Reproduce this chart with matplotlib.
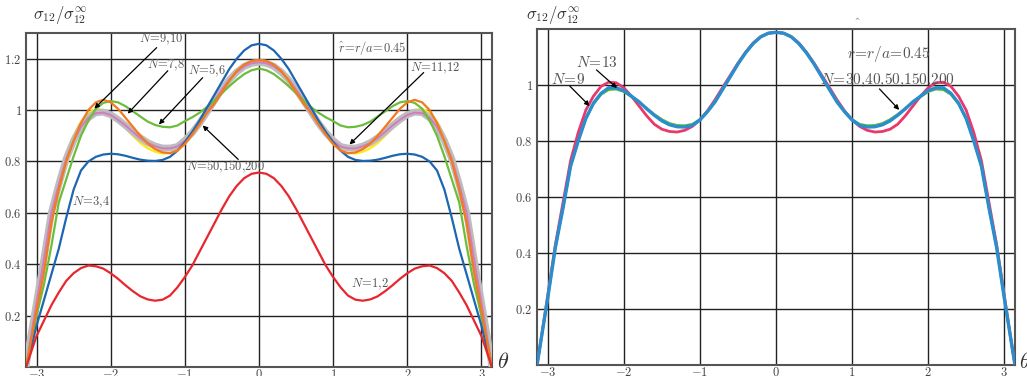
import numpy as np
import matplotlib
matplotlib.use('Agg')
import matplotlib.pyplot as plt

plt.rcParams['mathtext.fontset'] = 'cm'
plt.rcParams['font.family'] = ['DejaVu Serif']

# theta from -pi to 0; the curves are symmetric in theta, mirrored below
theta_half = [-np.pi, -3.1, -3.0, -2.9, -2.8, -2.7, -2.6, -2.5, -2.4, -2.3, -2.2, -2.1,
              -2.0, -1.9, -1.8, -1.7, -1.6, -1.5, -1.4, -1.3, -1.2, -1.1, -1.0,
              -0.9, -0.8, -0.7, -0.6, -0.5, -0.4, -0.3, -0.2, -0.1, 0.0]

# left panel, N = 1..200
n12 = [0, 0.035, 0.12, 0.18, 0.24, 0.29, 0.335, 0.365, 0.385, 0.395, 0.392, 0.383,
       0.365, 0.343, 0.318, 0.295, 0.275, 0.263, 0.258, 0.262, 0.278, 0.31, 0.35,
       0.395, 0.45, 0.505, 0.56, 0.615, 0.665, 0.705, 0.735, 0.752, 0.757]
n34 = [0, 0.04, 0.16, 0.26, 0.36, 0.46, 0.58, 0.69, 0.765, 0.80, 0.818, 0.827,
       0.83, 0.828, 0.822, 0.814, 0.807, 0.803, 0.802, 0.806, 0.818, 0.842, 0.875,
       0.915, 0.96, 1.01, 1.06, 1.11, 1.16, 1.20, 1.232, 1.252, 1.258]
n56 = [0, 0.06, 0.20, 0.32, 0.47, 0.64, 0.73, 0.82, 0.90, 0.96, 1.005, 1.028,
       1.035, 1.03, 1.015, 0.995, 0.975, 0.955, 0.942, 0.935, 0.933, 0.94, 0.957,
       0.972, 0.99, 1.012, 1.038, 1.066, 1.093, 1.118, 1.14, 1.155, 1.162]
n78 = [0, 0.06, 0.22, 0.37, 0.56, 0.69, 0.80, 0.88, 0.95, 1.00, 1.03, 1.04,
       1.03, 1.005, 0.97, 0.935, 0.90, 0.87, 0.848, 0.835, 0.832, 0.842, 0.868,
       0.905, 0.945, 0.99, 1.025, 1.07, 1.115, 1.152, 1.177, 1.191, 1.195]
n910 = [0, 0.08, 0.25, 0.42, 0.60, 0.72, 0.82, 0.90, 0.955, 0.99, 1.005, 1.0,
        0.985, 0.96, 0.93, 0.90, 0.872, 0.851, 0.838, 0.831, 0.833, 0.845, 0.868,
        0.903, 0.945, 0.99, 1.037, 1.08, 1.12, 1.152, 1.175, 1.187, 1.19]
n1112 = [0, 0.075, 0.25, 0.42, 0.60, 0.71, 0.81, 0.88, 0.935, 0.97, 0.988, 0.99,
         0.981, 0.962, 0.94, 0.915, 0.891, 0.872, 0.859, 0.851, 0.851, 0.858, 0.88,
         0.911, 0.95, 0.993, 1.038, 1.08, 1.118, 1.148, 1.17, 1.182, 1.186]
n_conv = [0, 0.08, 0.25, 0.42, 0.60, 0.71, 0.81, 0.88, 0.935, 0.97, 0.99, 0.992,
          0.982, 0.963, 0.94, 0.915, 0.892, 0.873, 0.86, 0.852, 0.852, 0.858, 0.882,
          0.912, 0.95, 0.993, 1.038, 1.08, 1.118, 1.148, 1.17, 1.182, 1.186]

# right panel, N = 9, 13, 30..200
r_n9 = [0, 0.07, 0.25, 0.43, 0.58, 0.73, 0.83, 0.91, 0.96, 0.995, 1.01, 1.008,
        0.99, 0.96, 0.925, 0.89, 0.86, 0.842, 0.834, 0.832, 0.838, 0.852, 0.876,
        0.908, 0.948, 0.992, 1.035, 1.078, 1.117, 1.15, 1.173, 1.185, 1.188]
r_n13 = [0, 0.07, 0.24, 0.42, 0.56, 0.71, 0.80, 0.88, 0.932, 0.966, 0.983, 0.985,
         0.976, 0.958, 0.939, 0.917, 0.895, 0.877, 0.863, 0.856, 0.855, 0.86, 0.877,
         0.906, 0.942, 0.985, 1.03, 1.075, 1.115, 1.148, 1.172, 1.185, 1.188]
r_conv = [0, 0.07, 0.24, 0.42, 0.56, 0.71, 0.80, 0.88, 0.935, 0.97, 0.99, 0.99,
          0.98, 0.96, 0.94, 0.915, 0.892, 0.872, 0.858, 0.851, 0.85, 0.856, 0.875,
          0.905, 0.94, 0.985, 1.03, 1.075, 1.115, 1.148, 1.172, 1.185, 1.188]

x_ticks = [-3, -2, -1, 0, 1, 2, 3]
y_ticks_left = [0.2, 0.4, 0.6, 0.8, 1.0, 1.2]
y_ticks_right = [0.2, 0.4, 0.6, 0.8, 1.0]


def full(half):
    half = np.asarray(half, dtype=float)
    return np.concatenate([half, half[-2::-1]])


theta = np.concatenate([np.asarray(theta_half), -np.asarray(theta_half)[-2::-1]])


def style_axis(ax, ymax, yticks):
    ax.set_xlim(-np.pi, np.pi)
    ax.set_ylim(0, ymax)
    ax.set_xticks(x_ticks)
    ax.set_xticklabels([r'$%d$' % t for t in x_ticks])
    ax.set_yticks(yticks)
    ax.set_yticklabels([r'$%g$' % t for t in yticks])
    ax.tick_params(length=0, pad=3, labelsize=9, labelcolor='#444444')
    ax.tick_params(axis='x', pad=0.5)
    ax.grid(True, color='#222222', lw=1.0)
    ax.set_axisbelow(True)
    for s in ax.spines.values():
        s.set_color('#555555')
        s.set_linewidth(1.5)


fig = plt.figure(figsize=(10.27, 3.76), dpi=100)
ax1 = fig.add_axes([26 / 1027, 1 - 367 / 376, 466 / 1027, 334 / 376])
ax2 = fig.add_axes([537 / 1027, 1 - 365 / 376, 478 / 1027, 336 / 376])

style_axis(ax1, 1.3, y_ticks_left)
style_axis(ax2, 1.2, y_ticks_right)

# left panel curves
ax1.plot(theta, full(n910), color='#ffe81a', lw=1.6, zorder=3)
ax1.plot(theta, full(n_conv), color='#bdbdbd', lw=5, zorder=4)
ax1.plot(theta, full(n1112), color='#d27cc0', lw=1.4, zorder=5)
ax1.plot(theta, full(n56), color='#6cbd3c', lw=1.6, zorder=6)
ax1.plot(theta, full(n34), color='#1d66b2', lw=1.6, zorder=7)
ax1.plot(theta, full(n78), color='#f37a1c', lw=1.6, zorder=8)
ax1.plot(theta, full(n12), color='#e8262d', lw=1.6, zorder=9)

arrow = dict(arrowstyle='-|>', color='black', lw=0.9, mutation_scale=7,
             shrinkA=0, shrinkB=0)
txt = dict(fontsize=9, color='#555555', ha='center', va='center')

ax1.annotate('', xy=(-2.22, 1.006), xytext=(-1.38, 1.243), arrowprops=arrow, zorder=10)
ax1.text(-1.32, 1.274, r'$N\!=\!9{,}10$', **txt)
ax1.annotate('', xy=(-1.77, 0.986), xytext=(-1.23, 1.153), arrowprops=arrow, zorder=10)
ax1.text(-1.26, 1.173, r'$N\!=\!7{,}8$', **txt)
ax1.annotate('', xy=(-1.35, 0.944), xytext=(-0.76, 1.126), arrowprops=arrow, zorder=10)
ax1.text(-0.70, 1.153, r'$N\!=\!5{,}6$', **txt)
ax1.annotate('', xy=(-0.76, 0.94), xytext=(-0.28, 0.808), arrowprops=arrow, zorder=10)
ax1.text(-0.45, 0.777, r'$N\!=\!50{,}150{,}200$', **txt)
ax1.annotate('', xy=(1.22, 0.866), xytext=(2.22, 1.146), arrowprops=arrow, zorder=10)
ax1.text(2.38, 1.161, r'$N\!=\!11{,}12$', **txt)
ax1.text(1.53, 1.243, r'$\hat{r}\!=\!r/a\!=\!0.45$', **txt)
ax1.text(-2.26, 0.641, r'$N\!=\!3{,}4$', **txt)
ax1.text(1.49, 0.322, r'$N\!=\!1{,}2$', **txt)

# right panel curves
ax2.plot(theta, full(r_n9), color='#e8386c', lw=2.0, zorder=3)
ax2.plot(theta, full(r_n13), color='#5cbd3a', lw=1.8, zorder=4)
ax2.plot(theta, full(r_conv), color='#2b8cce', lw=2.4, zorder=5)

txt2 = dict(txt, fontsize=11)
ax2.annotate('', xy=(-2.09, 0.989), xytext=(-2.36, 1.054), arrowprops=arrow, zorder=10)
ax2.text(-2.35, 1.082, r'$N\!=\!13$', **txt2)
ax2.annotate('', xy=(-2.45, 0.925), xytext=(-2.71, 0.996), arrowprops=arrow, zorder=10)
ax2.text(-2.73, 1.021, r'$N\!=\!9$', **txt2)
ax2.annotate('', xy=(1.62, 0.911), xytext=(1.36, 0.986), arrowprops=arrow, zorder=10)
ax2.text(1.46, 1.018, r'$N\!=\!30{,}40{,}50{,}150{,}200$', **txt2)
ax2.text(1.48, 1.11, r'$r\!=\!r/a\!=\!0.45$', **txt2)
fig.text(857 / 1027, 1 - 17 / 376, r'$\hat{}$', fontsize=10, color='#555555',
         ha='center', va='center')

# axis labels
ylab = r'$\sigma_{12}/\sigma_{12}^{\infty}$'
fig.text(60 / 1027, 1 - 15 / 376, ylab, fontsize=12, color='#333333', ha='center', va='center')
fig.text(553 / 1027, 1 - 15 / 376, ylab, fontsize=12, color='#333333', ha='center', va='center')
fig.text(497 / 1027, 1 - 362 / 376, r'$\theta$', fontsize=16, color='#333333', va='center')
fig.text(1019 / 1027, 1 - 362 / 376, r'$\theta$', fontsize=16, color='#333333', va='center')

fig.savefig('out.png', dpi=100)
